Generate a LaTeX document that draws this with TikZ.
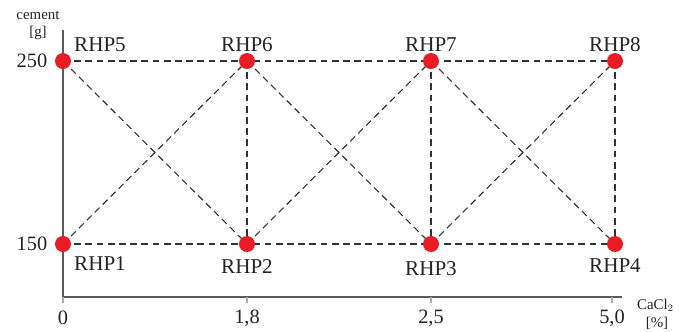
\documentclass[tikz,border=0pt]{standalone}
\usepackage{fontspec}
\setmainfont{Liberation Serif}
\usepackage{tikz}
\usetikzlibrary{positioning, calc}
\definecolor{RojoPunto}{RGB}{232, 28, 36}
\definecolor{GrisEje}  {RGB}{90, 90, 90}
\definecolor{GrisLinea}{RGB}{50, 50, 50}
\definecolor{GrisTexto}{RGB}{35, 35, 35}
\tikzset{
  punto/.style={circle,fill=RojoPunto,inner sep=0pt,minimum size=0.4cm},
  enlace/.style={GrisLinea,line width=0.8pt,dash pattern=on 0.17cm off 0.11cm},
  eje/.style={GrisEje,line width=1pt},
  etiq/.style={text=GrisTexto,font=\fontsize{15}{17}\selectfont,inner sep=0pt},
}

\begin{document}
\begin{tikzpicture}[x=0.025cm,y=-0.025cm,font=\fontsize{14.5}{16}\selectfont]
      \useasboundingbox (0,0) rectangle (679,331);
      % axes
      \coordinate (orig) at (63,297);
      \coordinate (ytop) at (63,30);
      \coordinate (xend) at (622,297);
      \draw[eje] (ytop) -- (orig) -- (xend);
      \node[GrisTexto,font=\fontsize{10.6}{12}\selectfont] (ylbl) at (38,15) {cement};
      \node[GrisTexto,font=\fontsize{10.6}{12}\selectfont] (yunit) at (38,33) {[g]};
      \node[GrisTexto,font=\fontsize{10.6}{12}\selectfont,anchor=east] (xlbl) at (679,305) {CaCl$_2$};
      \node[GrisTexto,font=\fontsize{10.6}{12}\selectfont] (xunit) at (657,323) {[\%]};
      \node[GrisTexto] (y250) at (32,61) {250};
      \node[GrisTexto] (y150) at (32,244) {150};
      \foreach \x/\xlbl in {63/0,247/{1,8},431/{2,5},612/{5,0}}{
        \draw[GrisEje!50,line width=0.8pt] (\x,297) -- (\x,303);
        \node[GrisTexto] at (\x,318) {\xlbl};
      }
      % points
      \foreach \n/\x/\y in {1/63/244,2/247/244,3/431/244,4/615/244,
                            5/63/61,6/247/61,7/431/61,8/615/61}{
        \coordinate (c\n) at (\x,\y);
      }
      % dashed links
      \foreach \a/\b in {5/8,1/4,6/2,7/3,8/4,5/2,1/6,6/3,2/7,7/4,3/8}{
        \draw[enlace] (c\a) -- (c\b);
      }
      \foreach \n in {1,...,8}{
        \node[punto] (p\n) at (c\n) {};
      }
      % labels
      \node[etiq] (l5) at (100,45) {RHP5};
      \node[etiq] (l6) at (247,45) {RHP6};
      \node[etiq] (l7) at (431,45) {RHP7};
      \node[etiq] (l8) at (615,45) {RHP8};
      \node[etiq] (l1) at (100,264) {RHP1};
      \node[etiq] (l2) at (247,267) {RHP2};
      \node[etiq] (l3) at (431,269) {RHP3};
      \node[etiq] (l4) at (615,266) {RHP4};
    \end{tikzpicture}
\end{document}
